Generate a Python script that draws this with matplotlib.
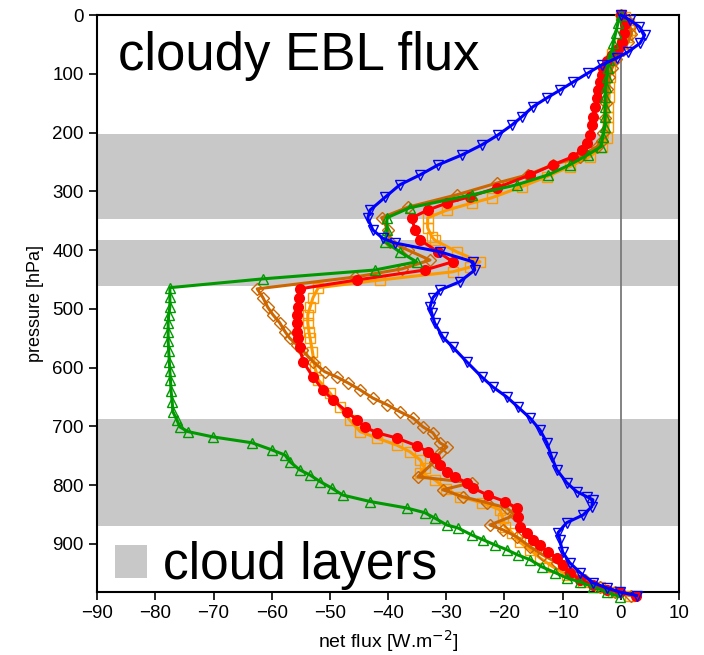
import matplotlib
matplotlib.use("Agg")
import matplotlib.pyplot as plt
from matplotlib.patches import Patch

plt.rcParams['font.family'] = ['Liberation Sans', 'DejaVu Sans']

# ---- data (pressure [hPa], net flux [W m-2]) ----
blue_p = [0, 8, 20, 34, 48, 63, 73, 85, 99, 114, 128, 141, 156, 173, 187, 204, 221, 238, 255, 272,
          289, 310, 332, 346, 366, 380, 388, 403, 420, 434, 454, 468, 481, 497, 507, 524, 548, 565,
          590, 616, 633, 650, 667, 686, 706, 728, 752, 774, 796, 811, 820, 825, 837, 851, 864, 881,
          893, 914, 932, 949, 966, 975, 982, 988]
blue_f = [0, 1.5, 3.2, 4.1, 3.3, 1.2, -0.7, -3.3, -5.7, -8.2, -10.5, -12.7, -15.1, -17.0, -18.7,
          -21.1, -23.9, -27.3, -31.4, -34.5, -38.0, -40.5, -43.1, -43.5, -42.6, -40.9, -38.8,
          -31.1, -25.4, -25.1, -27.7, -31.1, -32.3, -32.8, -32.5, -32.0, -30.6, -28.9, -26.5,
          -23.9, -22.0, -19.6, -17.7, -15.6, -13.9, -12.7, -11.9, -11.0, -9.3, -7.6, -5.8, -4.8,
          -5.0, -6.5, -9.3, -10.8, -10.5, -10.0, -8.8, -7.0, -4.8, -2.4, -0.2, 2.7]

red_p = [0, 15, 30, 45, 57, 68, 78, 90, 102, 114, 128, 141, 156, 173, 187, 204, 218, 230, 241,
         255, 272, 294, 309, 320, 332, 345, 366, 383, 403, 420, 434, 451, 466, 481, 497, 510, 524,
         539, 550, 565, 590, 616, 638, 655, 675, 689, 701, 711, 720, 733, 743, 754, 766, 777, 786,
         796, 805, 817, 828, 839, 854, 871, 881, 893, 902, 914, 924, 936, 949, 961, 970, 978, 982, 988]
red_f = [0, 0.8, 0.5, 0.2, -0.5, -1.5, -2.4, -3.1, -3.3, -3.6, -4.0, -4.1, -4.5, -4.8, -5.0,
         -5.3, -5.8, -6.7, -8.2, -11.7, -15.6, -21.3, -25.9, -29.9, -33.2, -35.9, -35.4, -34.5,
         -31.4, -28.9, -33.7, -45.4, -55.2, -55.3, -55.5, -55.7, -55.7, -55.7, -55.5, -55.2,
         -54.6, -52.9, -51.2, -49.5, -47.1, -45.4, -44.0, -41.9, -38.5, -35.1, -33.2, -32.0,
         -31.1, -29.9, -28.5, -26.5, -25.4, -22.9, -19.9, -17.9, -17.7, -17.4, -16.2, -15.1,
         -13.9, -12.5, -11.0, -10.0, -8.8, -7.0, -4.8, -2.4, -0.2, 2.6]

orange_p = [0, 4, 14, 26, 37, 50, 60, 67, 77, 87, 105, 122, 139, 156, 173, 190, 209, 224, 241,
            258, 275, 292, 311, 320, 332, 345, 362, 377, 383, 403, 420, 429, 437, 451, 464, 481,
            497, 510, 524, 539, 550, 573, 599, 621, 643, 667, 689, 709, 720, 732, 743, 757, 771,
            779, 791, 806, 820, 830, 842, 856, 871, 881, 897, 910, 924, 939, 953, 965, 973, 982, 988]
orange_f = [0, 0.7, 1.4, 1.5, 1.0, 0.2, -0.7, -1.5, -1.7, -1.9, -1.9, -2.0, -2.0, -2.2, -2.2,
            -2.2, -2.3, -3.3, -5.3, -8.8, -12.7, -17.0, -22.2, -25.6, -29.9, -33.2, -33.2, -32.5,
            -32.0, -28.2, -24.2, -25.9, -28.9, -41.4, -52.0, -52.9, -53.4, -53.8, -53.8, -53.6,
            -53.4, -53.0, -52.6, -52.0, -50.0, -48.3, -46.6, -44.8, -41.9, -38.5, -36.3, -34.5,
            -33.7, -34.5, -32.0, -30.0, -27.7, -23.9, -20.8, -20.3, -19.9, -18.7, -17.4, -15.6,
            -13.9, -11.7, -9.3, -6.5, -3.6, -1.4, 1.5]

brown_p = [0, 8, 20, 32, 45, 60, 75, 90, 105, 125, 150, 175, 200, 215, 224, 241, 255, 272, 286,
           306, 327, 345, 366, 386, 400, 417, 432, 446, 466, 481, 497, 510, 524, 539, 550, 561,
           570, 590, 607, 616, 626, 638, 652, 663, 675, 686, 701, 711, 728, 735, 745, 760, 786,
           796, 808, 820, 830, 839, 851, 868, 876, 888, 905, 919, 932, 948, 961, 973, 982, 988]
brown_f = [0, 1.0, 1.6, 1.8, 1.3, 0.3, -0.8, -1.5, -2.0, -2.3, -2.5, -2.7, -3.0, -3.3, -4.1,
           -7.0, -11.7, -16.0, -21.3, -28.2, -36.6, -41.1, -40.0, -39.7, -36.6, -32.8, -37.6,
           -45.7, -62.5, -61.5, -60.7, -59.8, -58.6, -57.7, -56.9, -55.7, -54.8, -52.9, -50.9,
           -48.8, -46.9, -44.8, -42.6, -40.2, -38.0, -35.7, -34.0, -32.3, -31.1, -29.9, -31.1,
           -32.0, -34.9, -25.6, -30.6, -27.1, -23.0, -19.6, -18.2, -22.5, -20.3, -17.9, -15.6,
           -13.4, -11.0, -8.8, -6.2, -3.6, -1.0, 1.8]

green_p = [0, 14, 31, 48, 63, 77, 90, 105, 122, 139, 156, 173, 190, 207, 224, 238, 255, 272,
           289, 306, 328, 345, 366, 386, 403, 420, 434, 449, 464, 480, 497, 510, 524, 539, 555,
           572, 590, 606, 622, 640, 658, 675, 689, 701, 709, 718, 728, 740, 749, 760, 774, 783,
           794, 805, 817, 828, 839, 847, 856, 868, 873, 885, 893, 902, 910, 919, 927, 939, 949,
           958, 965, 973, 982, 990]
green_f = [0, -0.5, -0.9, -1.3, -1.5, -2.0, -2.2, -2.4, -2.6, -2.7, -2.7, -2.7, -2.7, -3.1,
           -3.4, -5.7, -8.8, -12.5, -17.9, -25.6, -36.3, -40.2, -40.2, -40.5, -38.0, -35.1,
           -42.3, -61.5, -77.5, -77.5, -77.5, -77.7, -77.8, -77.8, -77.8, -77.7, -77.6, -77.5,
           -77.4, -77.3, -77.1, -77.0, -76.3, -75.8, -74.4, -70.1, -63.4, -60.0, -57.7, -56.9,
           -55.2, -53.4, -51.7, -49.7, -47.8, -43.1, -36.8, -33.7, -32.0, -29.9, -28.0, -25.6,
           -23.7, -21.6, -19.6, -17.7, -15.6, -13.6, -11.3, -9.3, -7.0, -4.8, -2.4, -0.2]

cloud_layers = [(202, 347), (383, 461), (687, 869)]

x_ticks = list(range(-90, 11, 10))
y_ticks = list(range(0, 901, 100))

# ---- figure ----
fig = plt.figure(figsize=(7.04, 6.55), dpi=100)
ax = fig.add_axes([0.138, 0.0962, 0.8265, 0.8808])

for lo, hi in cloud_layers:
    ax.axhspan(lo, hi, color='#c8c8c8', lw=0, zorder=0)
ax.axvline(0, color='#7a7a7a', lw=1.3, zorder=1)

kw = dict(lw=2.2, markersize=7, clip_on=False, zorder=3)
ax.plot(orange_f, orange_p, color='#ff9900', marker='s', mfc='none', mew=1.0, **kw)
ax.plot(brown_f, brown_p, color='#cc6600', marker='D', mfc='none', mew=1.0, ms=6.5,
        lw=2.2, clip_on=False, zorder=3)
ax.plot(red_f, red_p, color='#ff0000', marker='o', mfc='#ff0000', mew=0, ms=8,
        lw=2.2, clip_on=False, zorder=3)
ax.plot(green_f, green_p, color='#009900', marker='^', mfc='none', mew=1.0, **kw)
ax.plot(blue_f, blue_p, color='#0000ff', marker='v', mfc='none', mew=1.0, **kw)

ax.set_xlim(-90, 10)
ax.set_ylim(982, 0)
ax.set_xticks(x_ticks)
ax.set_yticks(y_ticks)
ax.tick_params(direction='out', length=6, width=1.2, labelsize=13.5,
               top=False, right=False)
for s in ax.spines.values():
    s.set_linewidth(1.5)

ax.set_xlabel('net flux [W.m$^{-2}$]', fontsize=14, labelpad=4)
ax.set_ylabel('pressure [hPa]', fontsize=13, labelpad=6)

ax.text(0.035, 0.972, 'cloudy EBL flux', transform=ax.transAxes, fontsize=38,
        ha='left', va='top')

leg = ax.legend(handles=[Patch(facecolor='#c8c8c8', edgecolor='none', label='cloud layers')],
                loc='lower left', frameon=False, fontsize=37, handlelength=0.62,
                handleheight=0.62, handletextpad=0.3, borderaxespad=0.0,
                bbox_to_anchor=(-0.004, -0.033))

fig.savefig('out.png', dpi=100)
